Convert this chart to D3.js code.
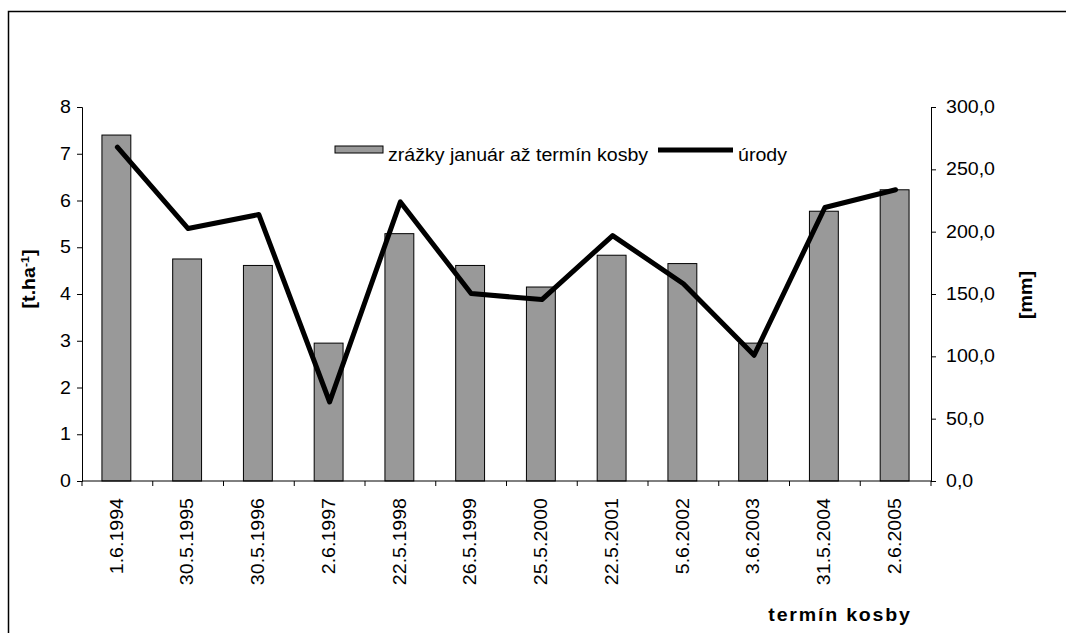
<!DOCTYPE html>
<html>
<head>
<meta charset="utf-8">
<script src="https://cdn.jsdelivr.net/npm/d3@7"></script>
<style>
  body { margin: 0; background: #fff; }
  svg text { font-family: "Liberation Sans", Arial, sans-serif; fill: #000; }
</style>
</head>
<body>
<div id="chart"></div>
<script>
// dates of mowing
var terminy = ["1.6.1994", "30.5.1995", "30.5.1996", "2.6.1997", "22.5.1998", "26.5.1999",
  "25.5.2000", "22.5.2001", "5.6.2002", "3.6.2003", "31.5.2004", "2.6.2005"];
// precipitation Jan - mowing [mm]
var zrazky = [277.5, 178.1, 172.9, 110.6, 198.4, 172.9, 155.6, 181.1, 174.4, 110.6, 216.4, 233.6];
// yields [t/ha]
var urody = [7.14, 5.40, 5.70, 1.69, 5.97, 4.01, 3.88, 5.25, 4.22, 2.69, 5.85, 6.23];
var leftTicks = [0, 1, 2, 3, 4, 5, 6, 7, 8];
var rightTicks = [0, 50, 100, 150, 200, 250, 300];

var width = 1066, height = 633;
var plot = {left: 82, right: 931, top: 107, bottom: 481};
var fs = "17.5px";
var sx = 1.12; // text in the original is a bit wide

var svg = d3.select("#chart").append("svg")
  .attr("width", width)
  .attr("height", height);

// outer frame (runs off the picture right and bottom)
svg.append("path")
  .attr("d", "M8.5," + height + "V11.5H" + width)
  .attr("fill", "none")
  .attr("stroke", "#000")
  .attr("stroke-width", 1.5);

var x = d3.scaleBand()
  .domain(terminy)
  .range([plot.left, plot.right])
  .padding(0);

var yLeft = d3.scaleLinear().domain([0, 8]).range([plot.bottom, plot.top]);
var yRight = d3.scaleLinear().domain([0, 300]).range([plot.bottom, plot.top]);

var barW = x.bandwidth() / 2.45;

svg.selectAll("rect.bar")
  .data(zrazky)
  .enter()
  .append("rect")
  .attr("class", "bar")
  .attr("x", function(d, i) { return x(terminy[i]) + x.bandwidth() / 2 - barW / 2 - 1; })
  .attr("y", function(d) { return yRight(d); })
  .attr("width", barW)
  .attr("height", function(d) { return plot.bottom - yRight(d); })
  .attr("fill", "#999999")
  .attr("stroke", "#000")
  .attr("stroke-width", 1);

var line = d3.line()
  .x(function(d, i) { return x(terminy[i]) + x.bandwidth() / 2; })
  .y(function(d) { return yLeft(d); });

svg.append("path")
  .datum(urody)
  .attr("d", line)
  .attr("fill", "none")
  .attr("stroke", "#000")
  .attr("stroke-width", 5)
  .attr("stroke-linejoin", "round")
  .attr("stroke-linecap", "round");

// left axis
var axL = svg.append("g")
  .attr("transform", "translate(" + plot.left + ",0)")
  .call(d3.axisLeft(yLeft).tickValues(leftTicks).tickSize(5).tickPadding(8).tickFormat(d3.format("d")));
axL.selectAll(".tick text")
  .style("font-size", fs)
  .attr("x", 0)
  .attr("transform", "translate(-11,0) scale(" + sx + ",1)");

// right axis
var axR = svg.append("g")
  .attr("transform", "translate(" + plot.right + ",0)")
  .call(d3.axisRight(yRight).tickValues(rightTicks).tickSize(5).tickPadding(9)
    .tickFormat(function(d) { return d3.format(".1f")(d).replace(".", ","); }));
axR.selectAll(".tick text")
  .style("font-size", fs)
  .attr("x", 0)
  .attr("transform", "translate(15,0) scale(" + sx + ",1)");

// bottom axis: ticks between categories, labels rotated
var axB = svg.append("g")
  .attr("transform", "translate(0," + plot.bottom + ")")
  .call(d3.axisBottom(x).tickSize(0).tickPadding(0));
axB.select(".domain").remove();
axB.append("line")
  .attr("x1", plot.left).attr("x2", plot.right)
  .attr("stroke", "#000");
axB.selectAll("line.sep")
  .data(d3.range(terminy.length + 1))
  .enter()
  .append("line")
  .attr("class", "sep")
  .attr("x1", function(i) { return plot.left + i * x.bandwidth(); })
  .attr("x2", function(i) { return plot.left + i * x.bandwidth(); })
  .attr("y1", 0).attr("y2", 5)
  .attr("stroke", "#000");
axB.selectAll(".tick text")
  .style("font-size", fs)
  .attr("text-anchor", "end")
  .attr("dy", "0.35em")
  .attr("transform", "translate(-1,17) rotate(-90) scale(" + sx + ",1)")
  .attr("x", 0).attr("y", 0);

svg.selectAll(".domain").attr("stroke", "#000");
svg.selectAll(".tick line").attr("stroke", "#000");

// axis titles
var tl = svg.append("text")
  .attr("transform", "translate(35,279) rotate(-90) scale(" + sx + ",1)")
  .attr("text-anchor", "middle")
  .style("font-size", fs)
  .style("font-weight", "bold");
tl.append("tspan").text("[t.ha");
tl.append("tspan").attr("dy", -6).style("font-size", "11px").text("-1");
tl.append("tspan").attr("dy", 6).text("]");

svg.append("text")
  .attr("transform", "translate(1032,295) rotate(-90) scale(" + sx + ",1)")
  .attr("text-anchor", "middle")
  .style("font-size", fs)
  .style("font-weight", "bold")
  .text("[mm]");

svg.append("text")
  .attr("transform", "translate(840,621) scale(" + sx + ",1)")
  .attr("text-anchor", "middle")
  .style("font-size", fs)
  .style("font-weight", "bold")
  .style("letter-spacing", "1.6px")
  .text("termín kosby");

// legend
var leg = svg.append("g");
leg.append("rect")
  .attr("x", 335).attr("y", 146)
  .attr("width", 48).attr("height", 7)
  .attr("fill", "#999999").attr("stroke", "#000");
leg.append("text")
  .attr("transform", "translate(388,161) scale(" + sx + ",1)")
  .style("font-size", fs)
  .text("zrážky január až termín kosby");
leg.append("line")
  .attr("x1", 658).attr("x2", 733)
  .attr("y1", 150).attr("y2", 150)
  .attr("stroke", "#000").attr("stroke-width", 5);
leg.append("text")
  .attr("transform", "translate(738,161) scale(" + sx + ",1)")
  .style("font-size", fs)
  .text("úrody");
</script>
</body>
</html>
